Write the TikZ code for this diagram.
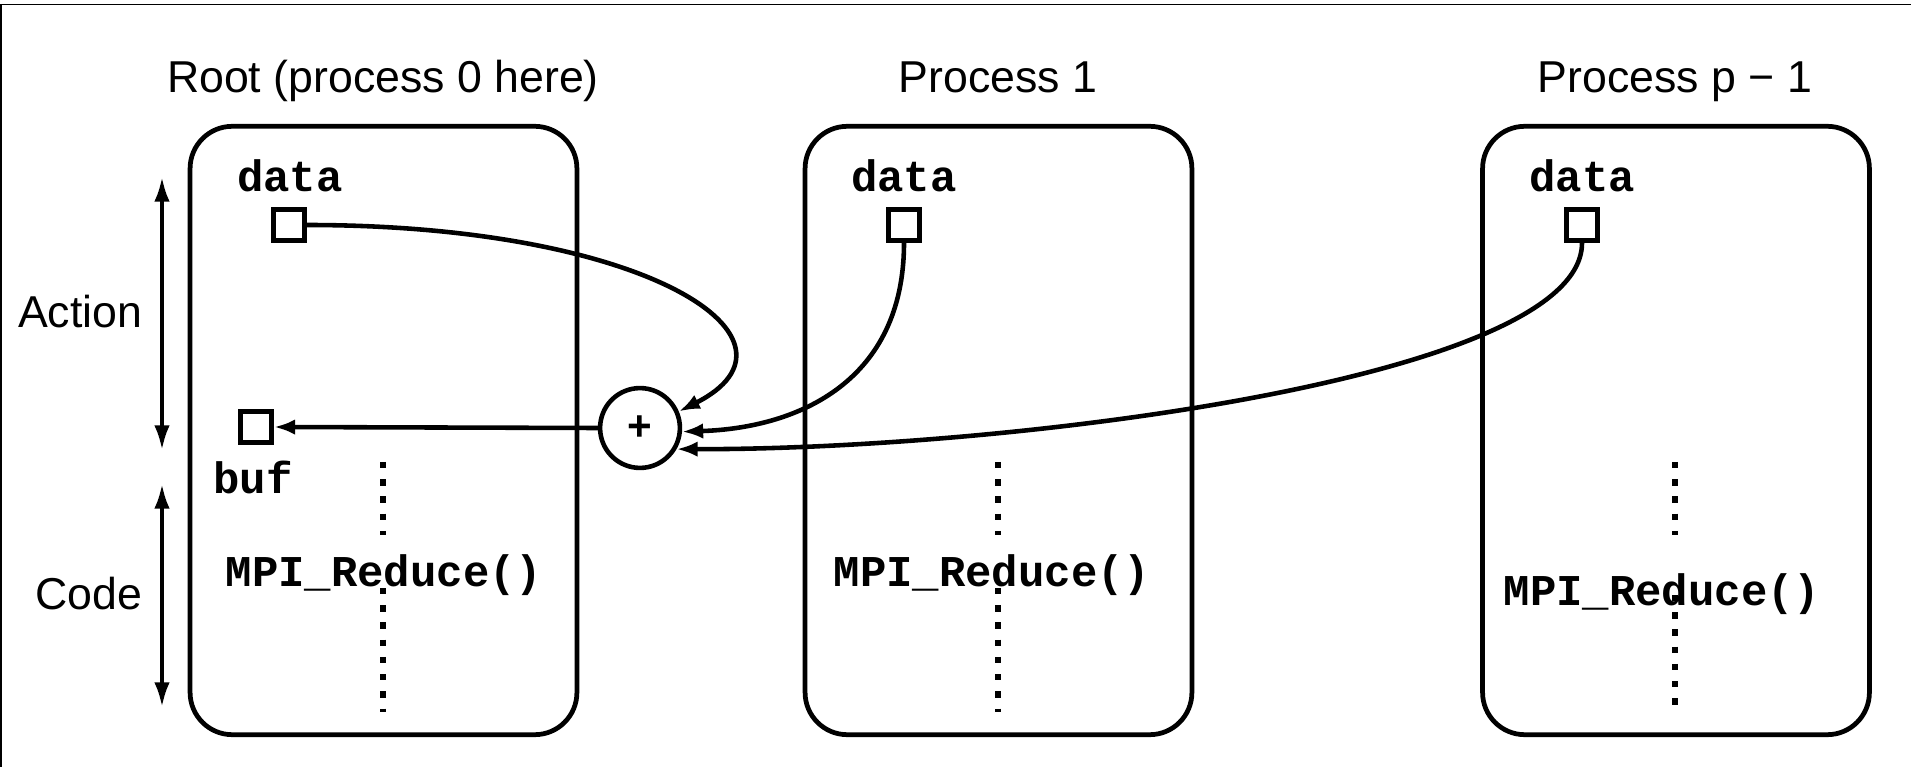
\documentclass[tikz,border=0pt]{standalone}
\usepackage{fontspec}
\setmainfont{Liberation Sans}
\newfontfamily\monofont{Liberation Mono}
\usetikzlibrary{arrows.meta}
\begin{document}
\begin{tikzpicture}[x=0.01cm,y=-0.01cm,
  lab/.style={font=\fontsize{12.7}{15}\selectfont, inner sep=0pt, anchor=base},
  codetxt/.style={font=\monofont\bfseries\fontsize{12.5}{15}\selectfont, inner sep=0pt, anchor=base},
  procbox/.style={draw, line width=1.35pt, rounded corners=12pt, minimum width=110pt, minimum height=173pt, inner sep=0pt},
  cell/.style={draw, line width=1.45pt, minimum size=8.8pt, inner sep=0pt},
  conn/.style={line width=1.3pt, -{Latex[length=6pt,width=4.4pt]}},
  dotline/.style={line width=1.7pt, dash pattern=on 1.8pt off 3.1pt},
  spanarrow/.style={line width=1.1pt, {Latex[length=7pt,width=4.4pt]}-{Latex[length=7pt,width=4.4pt]}}
]
\useasboundingbox (0,0) rectangle (1911,767);
% frame (top and left edges)
\draw[line width=0.5pt] (1911,4.5) -- (0.9,4.5) -- (0.9,767);

% process boxes
\node[procbox] (b1) at (383.5,430.5) {};
\node[procbox] (b2) at (998.5,430.5) {};
\node[procbox] (b3) at (1676,430.5) {};

% titles
\node[lab] (t1) at (383,93) {Root (process 0 here)};
\node[lab] (t2) at (998,93) {Process 1};
\node[lab] (t3) at (1675,93) {Process p − 1};

% dotted code lines
\draw[dotline] (383,462) -- (383,535);
\draw[dotline] (383,588) -- (383,712);
\draw[dotline] (998,462) -- (998,535);
\draw[dotline] (998,588) -- (998,712);
\draw[dotline] (1675,462) -- (1675,535);
\draw[dotline] (1675,595) -- (1675,712);

% code text
\node[codetxt] (c1) at (384,587) {MPI\_Reduce()};
\node[codetxt] (c2) at (992,587) {MPI\_Reduce()};
\node[codetxt] (c3) at (1662,605) {MPI\_Reduce()};

% data cells
\node[codetxt] (l1) at (290,192) {data};
\node[codetxt] (l2) at (904,192) {data};
\node[codetxt] (l3) at (1582,192) {data};
\node[cell] (d1) at (289,225) {};
\node[cell] (d2) at (904,225) {};
\node[cell] (d3) at (1582,225) {};
\node[cell] (buf) at (256,427) {};
\node[codetxt] (lbuf) at (253,493) {buf};

% reduction operator
\node[draw, circle, line width=1.3pt, minimum size=22.7pt, inner sep=0pt, font=\bfseries\fontsize{12}{14}\selectfont] (plus) at (640,428) {+};

% connectors
\draw[conn] (plus.west) -- (buf.east);
\draw[conn] (d1.east) .. controls (650,225) and (820,340) .. (plus.23);
\draw[conn] (d2.south) .. controls (904,380) and (800,428) .. (plus.-5);
\draw[conn] (d3.south) .. controls (1582,380) and (1000,450) .. (plus.-30);

% side labels
\coordinate (a1) at (162,177);
\coordinate (a2) at (162,450);
\coordinate (a3) at (162,484);
\coordinate (a4) at (162,707);
\draw[spanarrow] (a1) -- (a2);
\draw[spanarrow] (a3) -- (a4);
\node[lab, anchor=base east] (act) at (143,328) {Action};
\node[lab, anchor=base east] (cod) at (143,609) {Code};
\end{tikzpicture}
\end{document}
